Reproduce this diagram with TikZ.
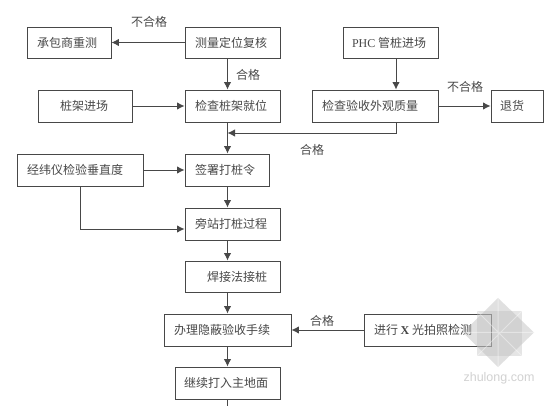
\documentclass[tikz,border=0pt]{standalone}
\usepackage{fontspec}
\setmainfont{Noto Sans CJK SC}[Scale=1.0]
\newfontfamily\latinserif{Liberation Serif}
\newfontfamily\wmfont{Liberation Sans}
\definecolor{ink}{HTML}{484848}
\definecolor{txt}{HTML}{484848}
\tikzset{
  x=1pt,y=-1pt,
  stepbox/.style={draw=ink,line width=0.95pt,inner sep=0pt,fill=white,text=txt,font=\fontsize{12}{12}\selectfont},
  flow/.style={draw=ink,line width=0.95pt},
  flowarrow/.style={flow,-{Latex[length=7.5pt,width=7.5pt]}},
  lab/.style={text=txt,inner sep=0pt,font=\fontsize{12}{12}\selectfont},
}
\usetikzlibrary{arrows.meta,calc}
\newcommand{\flowbox}[7]{%
  \pgfmathsetlengthmacro{\bw}{#4-#2}%
  \pgfmathsetlengthmacro{\bh}{#5-#3}%
  \node[stepbox,minimum width=\bw,minimum height=\bh] (#1) at ({(#2+#4)/2},{(#3+#5)/2})
    {\makebox[\bw][l]{\hspace*{#6pt}#7}};}
\begin{document}
\begin{tikzpicture}
\useasboundingbox (0,0) rectangle (560,406);
\fill[white] (0,0) rectangle (560,406);
\flowbox{chengbao}{27}{27}{111}{58}{10}{承包商重测}
\flowbox{celiang}{185}{27}{280}{58}{10}{测量定位复核}
\flowbox{zhuangjia}{38}{90}{132}{122}{22}{桩架进场}
\flowbox{jiancha}{185}{90}{280}{122}{10}{检查桩架就位}
\flowbox{jingwei}{17}{154}{143}{186}{10}{经纬仪检验垂直度}
\flowbox{qianshu}{185}{154}{269}{186}{10}{签署打桩令}
\flowbox{pangzhan}{185}{208}{280}{240}{10}{旁站打桩过程}
\flowbox{hanjie}{185}{261}{280}{292}{22}{焊接法接桩}
\flowbox{banli}{164}{314}{291}{346}{10}{办理隐蔽验收手续}
\flowbox{jixu}{175}{367}{280}{399}{9}{继续打入主地面}
\flowbox{phc}{343}{27}{438}{58}{9}{{\latinserif PHC} 管桩进场}
\flowbox{yanshou}{312}{90}{438}{122}{10}{检查验收外观质量}
\flowbox{tuihuo}{491}{90}{543}{122}{9}{退货}
\flowbox{xguang}{364}{314}{491}{346}{10}{进行 {\latinserif\bfseries X} 光拍照检测}
% connectors
\coordinate (join) at (227.5,133);
\coordinate (yturn) at (396,133);
\coordinate (jturn) at (80,229);
\coordinate (tail) at (227.5,406);
\draw[flowarrow] (celiang.west) -- (chengbao.east);
\draw[flowarrow] (celiang.south -| join) -- (jiancha.north -| join);
\draw[flowarrow] (zhuangjia.east) -- (jiancha.west);
\draw[flowarrow] (jiancha.south -| join) -- (qianshu.north -| join);
\draw[flowarrow] (jingwei.east) -- (qianshu.west);
\draw[flowarrow] (qianshu.south -| join) -- (pangzhan.north -| join);
\draw[flowarrow] (pangzhan.south -| join) -- (hanjie.north -| join);
\draw[flowarrow] (hanjie.south -| join) -- (banli.north -| join);
\draw[flowarrow] (banli.south -| join) -- (jixu.north -| join);
\draw[flow] (jixu.south -| join) -- (tail);
\draw[flowarrow] (phc.south -| yturn) -- (yanshou.north -| yturn);
\draw[flowarrow] (yanshou.east) -- (tuihuo.west);
\draw[flowarrow] (yanshou.south -| yturn) -- (yturn) -- (join);
\draw[flowarrow] (jingwei.south -| jturn) -- (jturn) -- (pangzhan.west |- jturn);
\draw[flowarrow] (xguang.west) -- (banli.east);
% labels
\node[lab] (l1) at (149,22) {不合格};
\node[lab] (l2) at (248,75) {合格};
\node[lab] (l3) at (465,87) {不合格};
\node[lab] (l4) at (312,150) {合格};
\node[lab] (l5) at (322,321) {合格};
% watermark
\begin{scope}[opacity=.4]
  \fill[gray!60] (498,298) -- (534,332.5) -- (498,367) -- (463,332.5) -- cycle;
  \fill[gray!50] (477,311) rectangle (522,356);
  \draw[white,line width=1pt] (477,311) -- (522,356) (477,356) -- (522,311) (498,298) -- (498,367) (463,332.5) -- (534,332.5);
\end{scope}
\node[inner sep=0pt,text=gray!35,font=\wmfont\fontsize{12.5}{12.5}\selectfont] (wm) at (499,378) {zhulong.com};
\end{tikzpicture}
\end{document}
